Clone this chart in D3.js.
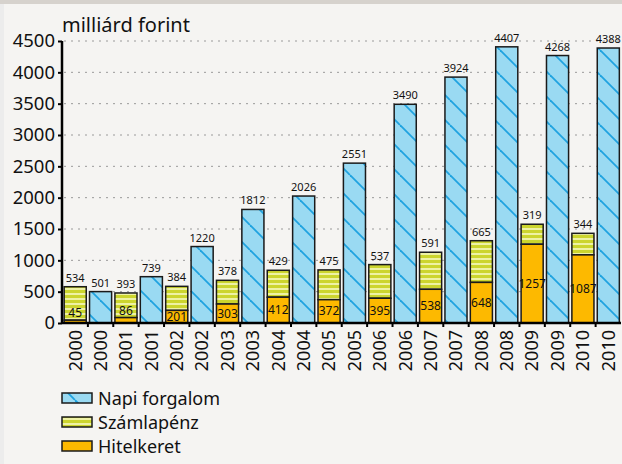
<!DOCTYPE html>
<html><head><meta charset="utf-8">
<script src="https://cdn.jsdelivr.net/npm/d3@7"></script>
<style>body{margin:0;padding:0;}svg{display:block;}text{font-family:"Noto Sans",sans-serif;}</style>
</head><body>
<script>
const years = [2000,2001,2002,2003,2004,2005,2006,2007,2008,2009,2010];
const napi = [501,739,1220,1812,2026,2551,3490,3924,4407,4268,4388];
const szamla = [534,393,384,378,429,475,537,591,665,319,344];
const hitel = [45,86,201,303,412,372,395,538,648,1257,1087];
const yTicks = [0,500,1000,1500,2000,2500,3000,3500,4000,4500];
const seriesNames = ["Napi forgalom","Számlapénz","Hitelkeret"];
const unitLabel = "milliárd forint";

const W=622,H=464;
const svg=d3.select("body").append("svg").attr("width",W).attr("height",H);
const defs=svg.append("defs");
const p1=defs.append("pattern").attr("id","hatch").attr("patternUnits","userSpaceOnUse")
  .attr("width",25).attr("height",25);
p1.append("rect").attr("width",25).attr("height",25).attr("fill","#9adaf2");
[-25,0,25].forEach(dx=>{
  p1.append("line").attr("x1",dx).attr("y1",0).attr("x2",dx+25).attr("y2",25)
    .attr("stroke","#1fa3e0").attr("stroke-width",1.8);
});
const p2=defs.append("pattern").attr("id","stripe").attr("patternUnits","userSpaceOnUse")
  .attr("width",10).attr("height",5);
p2.append("rect").attr("width",10).attr("height",5).attr("fill","#ccd52e");
p2.append("rect").attr("y",3).attr("width",10).attr("height",2).attr("fill","#eef2a4");

svg.append("rect").attr("width",W).attr("height",H).attr("fill","#ececec");
svg.append("rect").attr("x",4).attr("y",4).attr("width",W-4).attr("height",H-4).attr("fill","#f5f4f2");
svg.append("rect").attr("width",W).attr("height",4).attr("fill","#d6d2cd");

const x0=62, x1=621, yTop=41, yBot=323;
const cats=[];
years.forEach((yr,i)=>{cats.push({key:yr+"s",year:yr,i,type:"s"});cats.push({key:yr+"n",year:yr,i,type:"n"});});
const x=d3.scaleBand().domain(cats.map(d=>d.key)).range([x0+0.5,x1]).paddingInner(0.13).paddingOuter(0.065);
const y=d3.scaleLinear().domain([0,4500]).range([yBot,yTop]);

svg.append("g").selectAll("line").data(yTicks.filter(t=>t>0)).join("line")
  .attr("x1",x0+2).attr("x2",x1).attr("y1",d=>y(d)).attr("y2",d=>y(d))
  .attr("stroke","#9a9a9a").attr("stroke-width",1).attr("stroke-dasharray","2,5");

const g=svg.append("g");
cats.forEach(c=>{
  const bx=x(c.key), bw=x.bandwidth();
  if(c.type==="n"){
    const v=napi[c.i];
    g.append("rect").attr("x",bx).attr("y",y(v)).attr("width",bw).attr("height",y(0)-y(v))
      .attr("fill","url(#hatch)").attr("stroke","#1a1a1a").attr("stroke-width",1.5);
    g.append("text").attr("x",bx+bw/2).attr("y",y(v)-5).attr("text-anchor","middle")
      .attr("font-size",11).attr("fill","#111").text(v);
  } else {
    const h=hitel[c.i], s=szamla[c.i];
    g.append("rect").attr("x",bx).attr("y",y(h+s)).attr("width",bw).attr("height",y(h)-y(h+s))
      .attr("fill","url(#stripe)").attr("stroke","#1a1a1a").attr("stroke-width",1.5);
    g.append("rect").attr("x",bx).attr("y",y(h)).attr("width",bw).attr("height",y(0)-y(h))
      .attr("fill","#fdb900").attr("stroke","#1a1a1a").attr("stroke-width",1.5);
    g.append("text").attr("x",bx+bw/2).attr("y",y(h+s)-5).attr("text-anchor","middle")
      .attr("font-size",11).attr("fill","#111").text(s);
    const segH=y(0)-y(h);
    const ly = segH<12 ? y(h)-3 : (y(h)+y(0))/2+4;
    g.append("text").attr("x",bx+bw/2).attr("y",ly).attr("text-anchor","middle")
      .attr("font-size",12).attr("fill","#111").text(h);
  }
});

const ya=svg.append("g").attr("transform",`translate(${x0},0)`)
  .call(d3.axisLeft(y).tickValues(yTicks).tickSize(4).tickPadding(3).tickFormat(d3.format("d")));
ya.select(".domain").attr("stroke","#000").attr("stroke-width",2.5).attr("d",`M0,${yTop}V${yBot}`);
ya.selectAll(".tick line").attr("stroke","#000").attr("stroke-width",2);
ya.selectAll(".tick text").attr("font-size",18.5).attr("fill","#111").attr("font-family","Noto Sans");

const xa=svg.append("g").attr("transform",`translate(0,${yBot})`)
  .call(d3.axisBottom(x).tickSize(0).tickFormat(k=>k.slice(0,4)));
xa.select(".domain").attr("stroke","#000").attr("stroke-width",2.5).attr("d",`M${x0},0H${x1}`);
xa.selectAll(".tick text").attr("font-size",18).attr("fill","#111").attr("font-family","Noto Sans")
  .attr("text-anchor","end").attr("transform","translate(0,7) rotate(-90)").attr("dy","0.35em").attr("x",0).attr("y",0);
const bounds=cats.map(c=>x(c.key)-x.step()*x.paddingInner()/2).slice(1);
xa.append("g").selectAll("line").data(bounds).join("line")
  .attr("x1",d=>d).attr("x2",d=>d).attr("y1",0).attr("y2",4).attr("stroke","#000").attr("stroke-width",2);

svg.append("text").attr("x",x0).attr("y",32).attr("font-size",20).attr("fill","#111").text(unitLabel);

const fills=["url(#hatch)","url(#stripe)","#fdb900"];
seriesNames.forEach((n,i)=>{
  const ly=393+i*24;
  svg.append("rect").attr("x",62).attr("y",ly).attr("width",30).attr("height",10)
    .attr("fill",fills[i]).attr("stroke","#1a1a1a").attr("stroke-width",1.5);
  svg.append("text").attr("x",98).attr("y",ly+12).attr("font-size",18).attr("fill","#111").text(n);
});
</script>
</body></html>
